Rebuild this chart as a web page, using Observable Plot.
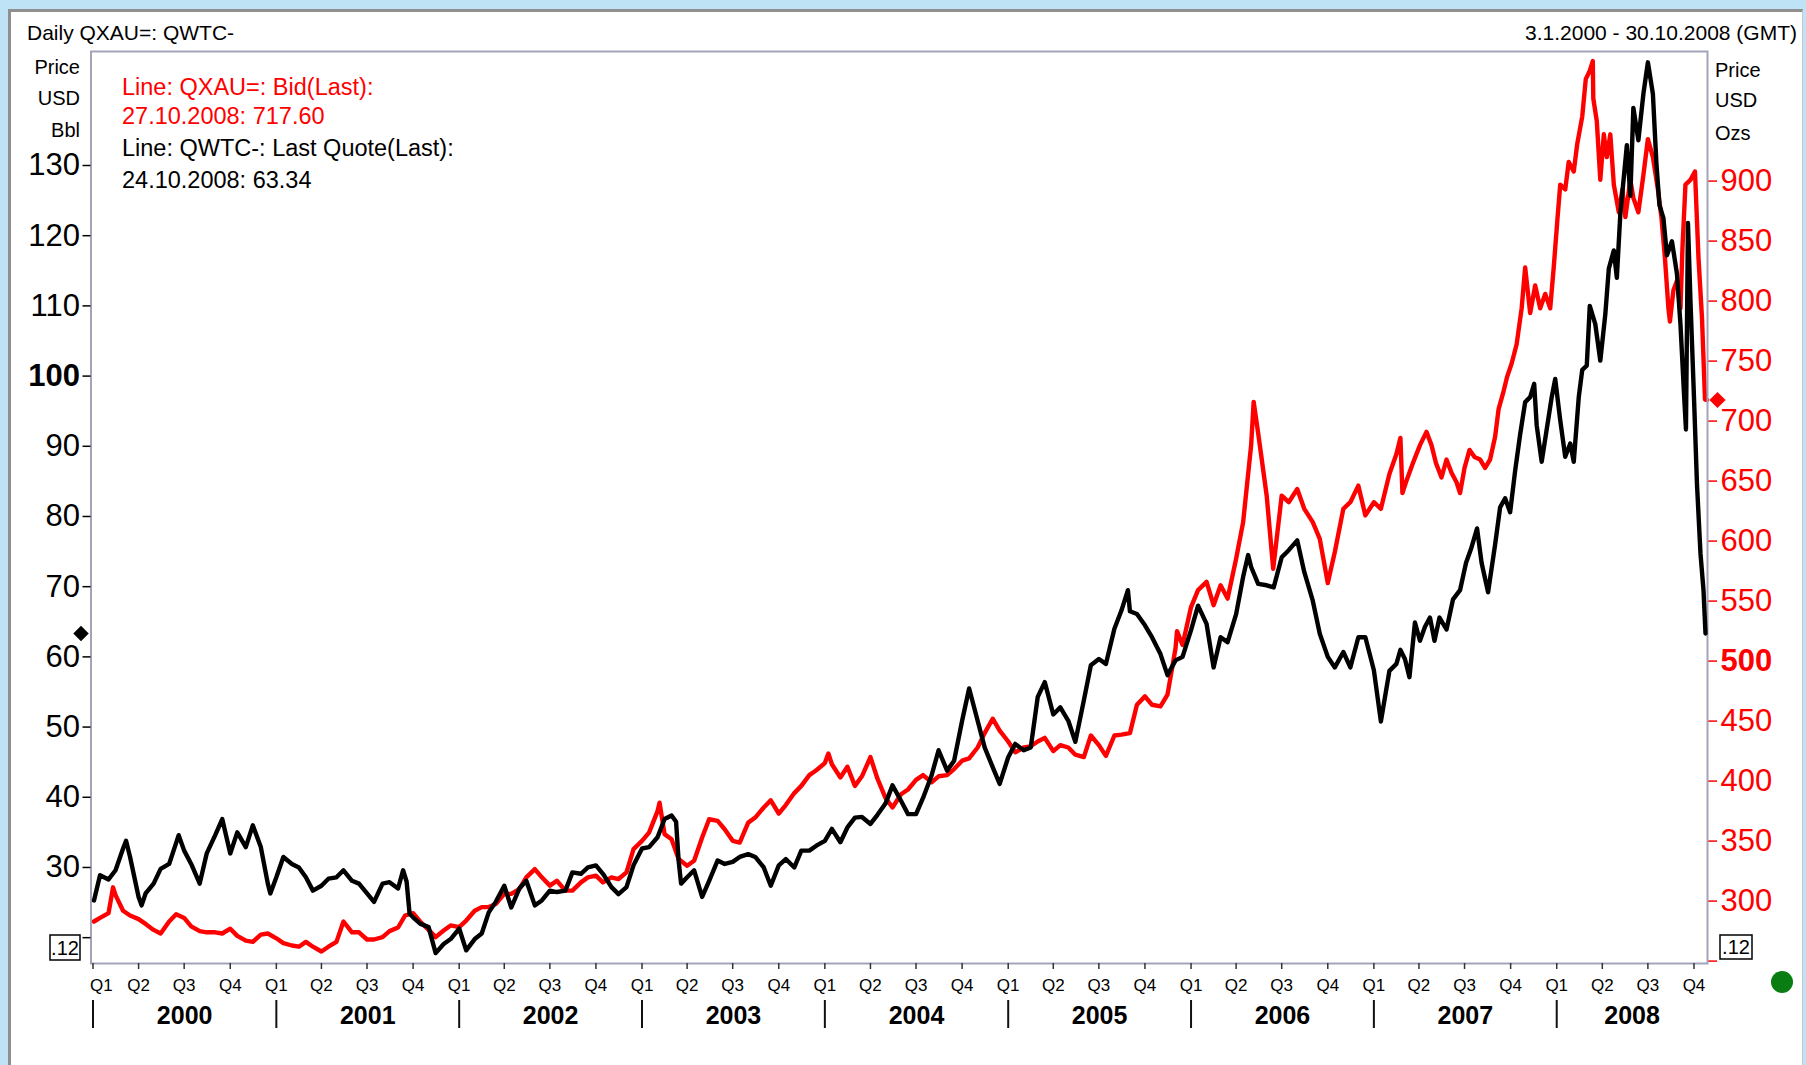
<!DOCTYPE html>
<html><head><meta charset="utf-8">
<script src="https://cdn.jsdelivr.net/npm/d3@7"></script>
<script src="https://cdn.jsdelivr.net/npm/@observablehq/plot@0.6"></script>
<style>
html,body{margin:0;padding:0;width:1806px;height:1065px;overflow:hidden;background:#bfe3f6;font-family:"Liberation Sans",Arial,sans-serif;}
#panel{position:absolute;left:8px;top:9px;width:1795px;height:1056px;background:#fff;border-left:3px solid #8f8f8f;border-top:3px solid #8f8f8f;border-right:1px solid #c8c8c8;box-sizing:border-box;}
.layer{position:absolute;left:0;top:0;}
</style></head>
<body>
<div id="panel"></div>
<div id="gold" class="layer"></div>
<div id="oil" class="layer"></div>
<div id="ann" class="layer"></div>
<script>
// ---- data ----
const oil = [
["2000-01-03",25.3],["2000-01-15",28.9],["2000-02-01",28.3],["2000-02-15",29.6],["2000-03-01",32.7],["2000-03-07",33.8],["2000-03-15",31.5],["2000-04-01",25.8],["2000-04-07",24.6],["2000-04-15",26.3],["2000-05-01",27.7],["2000-05-15",29.8],["2000-06-01",30.5],["2000-06-15",33.5],["2000-06-20",34.6],["2000-07-01",32.4],["2000-07-15",30.5],["2000-08-01",27.7],["2000-08-15",32.0],["2000-09-01",34.6],["2000-09-15",36.9],["2000-10-01",32.0],["2000-10-15",35.0],["2000-11-01",32.9],["2000-11-15",36.0],["2000-12-01",32.9],["2000-12-15",27.7],["2000-12-20",26.3],
["2001-01-01",28.6],["2001-01-15",31.5],["2001-02-01",30.5],["2001-02-15",30.0],["2001-03-01",28.6],["2001-03-15",26.7],["2001-04-01",27.4],["2001-04-15",28.4],["2001-05-01",28.6],["2001-05-15",29.6],["2001-06-01",28.1],["2001-06-15",27.7],["2001-07-01",26.3],["2001-07-15",25.1],["2001-08-01",27.7],["2001-08-15",27.9],["2001-09-01",27.0],["2001-09-11",29.6],["2001-09-18",28.0],["2001-09-24",23.4],["2001-10-01",22.9],["2001-10-15",22.0],["2001-11-01",21.5],["2001-11-15",17.8],["2001-12-01",19.1],["2001-12-15",19.8],
["2002-01-01",21.3],["2002-01-15",18.2],["2002-02-01",19.8],["2002-02-15",20.6],["2002-03-01",23.6],["2002-03-15",25.1],["2002-04-01",27.4],["2002-04-15",24.3],["2002-05-01",27.0],["2002-05-15",28.1],["2002-06-01",24.6],["2002-06-15",25.3],["2002-07-01",26.7],["2002-07-15",26.5],["2002-08-01",26.7],["2002-08-15",29.3],["2002-09-01",29.1],["2002-09-15",30.0],["2002-10-01",30.3],["2002-10-15",29.1],["2002-11-01",27.2],["2002-11-15",26.2],["2002-12-01",27.2],["2002-12-15",30.3],
["2003-01-01",32.7],["2003-01-15",32.9],["2003-02-01",34.3],["2003-02-15",36.9],["2003-03-01",37.4],["2003-03-10",36.5],["2003-03-15",31.0],["2003-03-20",27.7],["2003-04-01",28.6],["2003-04-15",29.6],["2003-05-01",25.8],["2003-05-15",28.1],["2003-06-01",31.0],["2003-06-15",30.5],["2003-07-01",30.8],["2003-07-15",31.5],["2003-08-01",31.9],["2003-08-15",31.5],["2003-09-01",30.0],["2003-09-15",27.4],["2003-10-01",30.3],["2003-10-15",31.2],["2003-11-01",30.0],["2003-11-15",32.4],["2003-12-01",32.4],["2003-12-15",33.1],
["2004-01-01",33.8],["2004-01-15",35.5],["2004-02-01",33.6],["2004-02-15",35.7],["2004-03-01",37.1],["2004-03-15",37.2],["2004-04-01",36.2],["2004-04-15",37.5],["2004-05-01",39.1],["2004-05-15",41.7],["2004-06-01",39.5],["2004-06-15",37.6],["2004-07-01",37.6],["2004-07-15",39.9],["2004-08-01",43.1],["2004-08-15",46.7],["2004-09-01",43.8],["2004-09-15",45.2],["2004-10-01",50.9],["2004-10-15",55.5],["2004-11-01",50.9],["2004-11-15",47.1],["2004-12-01",44.3],["2004-12-15",41.9],
["2005-01-01",45.7],["2005-01-15",47.6],["2005-02-01",46.7],["2005-02-15",47.1],["2005-03-01",54.3],["2005-03-15",56.4],["2005-04-01",51.8],["2005-04-15",52.8],["2005-05-01",50.9],["2005-05-15",47.9],["2005-06-01",53.8],["2005-06-15",58.8],["2005-07-01",59.7],["2005-07-15",59.0],["2005-08-01",64.0],["2005-08-15",66.6],["2005-08-28",69.5],["2005-09-01",66.5],["2005-09-15",66.1],["2005-10-01",64.5],["2005-10-15",62.8],["2005-11-01",60.4],["2005-11-15",57.4],["2005-12-01",59.5],["2005-12-15",60.0],
["2006-01-01",63.8],["2006-01-15",67.3],["2006-02-01",64.7],["2006-02-15",58.5],["2006-03-01",62.8],["2006-03-15",62.1],["2006-04-01",66.1],["2006-04-15",71.4],["2006-04-25",74.5],["2006-05-01",72.8],["2006-05-15",70.4],["2006-06-01",70.2],["2006-06-15",69.9],["2006-07-01",74.2],["2006-07-15",75.2],["2006-08-01",76.6],["2006-08-15",72.1],["2006-09-01",68.0],["2006-09-15",63.3],["2006-10-01",60.0],["2006-10-15",58.5],["2006-11-01",60.7],["2006-11-15",58.5],["2006-12-01",62.8],["2006-12-15",62.8],
["2007-01-01",58.1],["2007-01-15",50.8],["2007-02-01",58.0],["2007-02-15",59.0],["2007-02-23",61.0],["2007-03-04",59.7],["2007-03-13",57.1],["2007-03-24",64.9],["2007-04-03",62.3],["2007-04-13",64.3],["2007-04-23",65.6],["2007-05-02",62.3],["2007-05-12",65.6],["2007-05-26",63.9],["2007-06-08",68.2],["2007-06-22",69.5],["2007-07-04",73.4],["2007-07-14",75.4],["2007-07-26",78.3],["2007-08-04",73.4],["2007-08-17",69.2],["2007-08-31",76.0],["2007-09-10",81.3],["2007-09-20",82.6],["2007-09-30",80.6],["2007-10-10",86.5],["2007-10-20",91.7],["2007-10-30",96.3],["2007-11-09",97.0],["2007-11-17",98.9],["2007-11-22",93.0],["2007-12-02",87.8],["2007-12-12",92.4],["2007-12-22",97.0],["2007-12-29",99.6],
["2008-01-08",93.7],["2008-01-18",88.5],["2008-01-28",90.4],["2008-02-04",87.8],["2008-02-14",97.0],["2008-02-21",100.9],["2008-03-01",101.5],["2008-03-07",110.0],["2008-03-18",107.4],["2008-03-28",102.2],["2008-04-07",108.8],["2008-04-14",115.3],["2008-04-24",117.9],["2008-04-30",114.0],["2008-05-07",123.1],["2008-05-20",132.9],["2008-05-27",125.7],["2008-06-02",138.2],["2008-06-12",133.6],["2008-06-22",140.2],["2008-07-01",144.7],["2008-07-11",140.2],["2008-07-18",130.3],["2008-07-24",124.4],["2008-08-01",122.5],["2008-08-08",117.2],["2008-08-18",119.2],["2008-08-28",114.6],["2008-09-04",107.4],["2008-09-11",97.6],["2008-09-15",92.4],["2008-09-19",121.8],["2008-09-24",110.7],["2008-10-01",97.0],["2008-10-07",84.6],["2008-10-14",74.7],["2008-10-20",69.5],["2008-10-24",63.34]
];
const gold = [
["2000-01-03",283],["2000-01-15",286],["2000-02-01",290],["2000-02-10",311.5],["2000-02-15",305],["2000-03-01",292],["2000-03-15",288],["2000-04-01",285],["2000-04-15",281],["2000-05-01",276],["2000-05-15",273],["2000-06-01",283],["2000-06-15",289],["2000-07-01",286],["2000-07-15",279],["2000-08-01",275],["2000-08-15",274],["2000-09-01",274],["2000-09-15",273],["2000-10-01",277],["2000-10-15",271],["2000-11-01",267],["2000-11-15",266],["2000-12-01",272],["2000-12-15",273],
["2001-01-01",269],["2001-01-15",265],["2001-02-01",263],["2001-02-15",262],["2001-03-01",266],["2001-03-15",262],["2001-04-01",258],["2001-04-15",262],["2001-05-01",266],["2001-05-15",283],["2001-06-01",274],["2001-06-15",274],["2001-07-01",268],["2001-07-15",268],["2001-08-01",270],["2001-08-15",275],["2001-09-01",278],["2001-09-15",288],["2001-10-01",290],["2001-10-15",283],["2001-11-01",276],["2001-11-15",270],["2001-12-01",275.5],["2001-12-15",279.7],
["2002-01-01",278.3],["2002-01-15",283.8],["2002-02-01",292],["2002-02-15",295],["2002-03-01",295],["2002-03-15",297.6],["2002-04-01",306],["2002-04-15",306],["2002-05-01",310],["2002-05-15",319.8],["2002-06-01",326.7],["2002-06-15",319.8],["2002-07-01",312.9],["2002-07-15",317],["2002-08-01",308.7],["2002-08-15",308.7],["2002-09-01",315.6],["2002-09-15",319.8],["2002-10-01",321.2],["2002-10-15",315.6],["2002-11-01",319.8],["2002-11-15",318.4],["2002-12-01",323.9],["2002-12-15",343.3],
["2003-01-01",350.2],["2003-01-15",357.1],["2003-02-01",375],["2003-02-05",382],["2003-02-15",355.8],["2003-03-01",351.6],["2003-03-15",335],["2003-04-01",329.5],["2003-04-15",333.6],["2003-05-01",353],["2003-05-15",368.2],["2003-06-01",366.8],["2003-06-15",359.9],["2003-07-01",350.2],["2003-07-15",348.8],["2003-08-01",365.4],["2003-08-15",369.6],["2003-09-01",378],["2003-09-15",384],["2003-10-01",373],["2003-10-15",380],["2003-11-01",390],["2003-11-15",396],["2003-12-01",405],["2003-12-15",409],
["2004-01-01",415],["2004-01-08",423],["2004-01-15",414],["2004-02-01",403],["2004-02-15",412],["2004-03-01",396],["2004-03-15",404],["2004-04-01",420],["2004-04-15",402],["2004-05-01",386],["2004-05-15",378],["2004-06-01",389],["2004-06-15",393],["2004-07-01",401],["2004-07-15",405],["2004-08-01",399],["2004-08-15",404],["2004-09-01",405],["2004-09-15",410],["2004-10-01",417],["2004-10-15",419],["2004-11-01",428],["2004-11-15",440],["2004-12-01",452],["2004-12-15",442],
["2005-01-01",433],["2005-01-15",424],["2005-02-01",428],["2005-02-15",429],["2005-03-01",433],["2005-03-15",436],["2005-04-01",425],["2005-04-15",430],["2005-05-01",428],["2005-05-15",422],["2005-06-01",420],["2005-06-15",438],["2005-07-01",430],["2005-07-15",421],["2005-08-01",438],["2005-08-15",438.7],["2005-09-01",440],["2005-09-15",463.6],["2005-10-01",470.6],["2005-10-15",463.6],["2005-11-01",462.2],["2005-11-15",472],["2005-12-01",510.6],["2005-12-04",525],["2005-12-15",513.4],
["2006-01-01",545],["2006-01-15",559.1],["2006-02-01",566],["2006-02-15",546.6],["2006-03-01",563.2],["2006-03-15",552.1],["2006-04-01",585.3],["2006-04-15",615.8],["2006-05-01",680],["2006-05-06",716],["2006-05-15",690],["2006-06-01",637.9],["2006-06-14",577],["2006-07-01",637.9],["2006-07-15",632.4],["2006-08-01",643.4],["2006-08-15",626.9],["2006-09-01",615.8],["2006-09-15",601.9],["2006-10-01",565],["2006-10-15",590.9],["2006-11-01",626.9],["2006-11-15",632.4],["2006-12-01",646.2],["2006-12-15",621.4],
["2007-01-01",632.4],["2007-01-15",626.9],["2007-02-01",655.9],["2007-02-15",672.5],["2007-02-23",686],["2007-02-27",640],["2007-03-06",649],["2007-03-20",665],["2007-04-03",680],["2007-04-16",691],["2007-04-26",680],["2007-05-05",665],["2007-05-16",653],["2007-05-26",668],["2007-06-05",657],["2007-06-15",649],["2007-06-22",640],["2007-07-01",661],["2007-07-11",676],["2007-07-21",670],["2007-08-01",668],["2007-08-11",661],["2007-08-21",668],["2007-08-31",687],["2007-09-07",710],["2007-09-17",725],["2007-09-24",737],["2007-10-03",748],["2007-10-13",764],["2007-10-23",794],["2007-10-30",828],["2007-11-09",790],["2007-11-19",813],["2007-11-29",794],["2007-12-09",806],["2007-12-19",794],["2007-12-26",828],
["2008-01-02",866],["2008-01-08",897],["2008-01-18",893],["2008-01-25",916],["2008-02-04",908],["2008-02-11",931],["2008-02-21",954],["2008-02-28",985],["2008-03-07",992],["2008-03-13",1000],["2008-03-14",969],["2008-03-21",950],["2008-03-28",901],["2008-04-04",939],["2008-04-10",920],["2008-04-17",939],["2008-04-24",897],["2008-05-04",874],["2008-05-11",893],["2008-05-17",870],["2008-05-27",901],["2008-06-02",886],["2008-06-12",874],["2008-06-22",905],["2008-07-01",935],["2008-07-11",920],["2008-07-21",893],["2008-07-28",870],["2008-08-04",836],["2008-08-11",794],["2008-08-14",783],["2008-08-21",809],["2008-08-28",817],["2008-09-04",794],["2008-09-08",844],["2008-09-14",897],["2008-09-24",901],["2008-10-03",908],["2008-10-10",836],["2008-10-17",786],["2008-10-23",718],["2008-10-27",717.6]
];
const oilTicks = [20,30,40,50,60,70,80,90,100,110,120,130];
const goldTicks = [250,300,350,400,450,500,550,600,650,700,750,800,850,900];
const years = [2000,2001,2002,2003,2004,2005,2006,2007,2008];
const quarterNames = ["Q1","Q2","Q3","Q4"];
const lastOil = {date:"2008-10-24", value:63.34};
const lastGold = {date:"2008-10-27", value:717.60};
const titleLeft = "Daily QXAU=: QWTC-";
const titleRight = "3.1.2000 - 30.10.2008 (GMT)";
const legendLines = [
  {text:"Line: QXAU=: Bid(Last):", color:"#ff0000"},
  {text:"27.10.2008: 717.60", color:"#ff0000"},
  {text:"Line: QWTC-: Last Quote(Last):", color:"#000"},
  {text:"24.10.2008: 63.34", color:"#000"}
];
const leftUnits = ["Price","USD","Bbl"];
const rightUnits = ["Price","USD","Ozs"];

// ---- layout ----
const W = 1806, H = 1065;
const M = {marginLeft: 90.5, marginRight: 99, marginTop: 51, marginBottom: 102};
const xDomain = [new Date("1999-12-28"), new Date("2008-10-28")];
const RED = "#ff0000";
const FONT = "'Liberation Sans', Arial, sans-serif";
const parse = d => new Date(d[0]);
const LW = 4.4;

const quarters = [];
years.forEach(y => [0,3,6,9].forEach(m => { const d = new Date(Date.UTC(y,m,1)); if (d <= xDomain[1]) quarters.push(d); }));
const yearStarts = years.map(y => new Date(Date.UTC(y,0,1)));
const yearMids = years.map(y => {
  const a = +new Date(Date.UTC(y,0,1)), b = Math.min(+new Date(Date.UTC(y+1,0,1)), +xDomain[1]);
  return {x: new Date((a+b)/2), label: String(y)};
});
const qLabel = d => quarterNames[Math.floor(d.getUTCMonth()/3)];

const common = {width: W, height: H, ...M,
  style: {background: "transparent", fontFamily: FONT, overflow: "visible"}};

// Gold (right axis) layer, drawn below
const goldPlot = Plot.plot({
  ...common,
  x: {type: "utc", domain: xDomain, axis: null},
  y: {domain: [248, 1008], label: null},
  marks: [
    Plot.line(gold, {x: parse, y: d => d[1], stroke: RED, strokeWidth: LW, strokeLinejoin: "round"}),
    Plot.axisY(goldTicks, {anchor: "right", tickSize: 9, tickPadding: 4, fontSize: 31, color: RED, strokeWidth: 1.5,
      tickFormat: d => (d === 250 || d === 500) ? "" : d}),
    Plot.text([500], {y: d => d, frameAnchor: "right", dx: 13, textAnchor: "start", fontSize: 31, fontWeight: "bold", fill: RED}),
    Plot.dot([lastGold], {y: "value", frameAnchor: "right", dx: 10, symbol: "diamond2", r: 7.3, fill: RED, stroke: "none"})
  ]
});
document.getElementById("gold").append(goldPlot);

// Oil (left axis) layer, drawn on top
const oilPlot = Plot.plot({
  ...common,
  x: {type: "utc", domain: xDomain, label: null},
  y: {domain: [16.32, 146.24], label: null},
  marks: [
    Plot.frame({stroke: "#a4a4b8", strokeWidth: 2}),
    Plot.line(oil, {x: parse, y: d => d[1], stroke: "#000", strokeWidth: LW, strokeLinejoin: "round"}),
    Plot.axisY(oilTicks, {anchor: "left", tickSize: 8, tickPadding: 3, fontSize: 31, strokeWidth: 1.5,
      tickFormat: d => (d === 20 || d === 100) ? "" : d}),
    Plot.text([100], {y: d => d, frameAnchor: "left", dx: -11, textAnchor: "end", fontSize: 31, fontWeight: "bold"}),
    Plot.axisX(quarters, {anchor: "bottom", tickSize: 6, tickPadding: 9, fontSize: 17, stroke: "#333", strokeWidth: 1.5,
      tickFormat: (d, i) => i === 0 ? "" : qLabel(d)}),
    Plot.text(quarters.slice(0, 1), {x: d => d, text: qLabel, frameAnchor: "bottom", dy: 15, dx: -3, lineAnchor: "top", textAnchor: "start", fontSize: 17}),
    Plot.ruleX(yearStarts, {stroke: "#111", strokeWidth: 2, insetTop: 949, insetBottom: -65}),
    Plot.text(yearMids, {x: "x", text: "label", frameAnchor: "bottom", dy: 52, lineAnchor: "middle", fontSize: 25, fontWeight: "bold"}),
    Plot.dot([lastOil], {y: "value", frameAnchor: "left", dx: -10, symbol: "diamond2", r: 7, fill: "#000", stroke: "none"})
  ]
});
document.getElementById("oil").append(oilPlot);

// Annotation layer (titles, units, legend, markers)
const svg = d3.select("#ann").append("svg").attr("width", W).attr("height", H)
  .style("font-family", FONT).style("overflow", "visible");
svg.append("text").attr("x", 27).attr("y", 40).attr("font-size", 21).text(titleLeft);
svg.append("text").attr("x", 1797).attr("y", 40).attr("font-size", 21).attr("text-anchor", "end").text(titleRight);
leftUnits.forEach((t,i) => svg.append("text").attr("x", 80).attr("y", [74,105,137][i]).attr("font-size", 20).attr("text-anchor", "end").text(t));
rightUnits.forEach((t,i) => svg.append("text").attr("x", 1715).attr("y", [77,107,140][i]).attr("font-size", 20).text(t));
legendLines.forEach((l,i) => svg.append("text").attr("x", 122).attr("y", [95,124,156,188][i]).attr("font-size", 23.5).attr("fill", l.color).text(l.text));
[[50,935,30,25],[1720,935,32,24]].forEach(([x,y,w,h]) => {
  svg.append("rect").attr("x", x).attr("y", y).attr("width", w).attr("height", h).attr("fill", "#fff").attr("stroke", "#000").attr("stroke-width", 1.5);
  svg.append("text").attr("x", x + w/2).attr("y", y + h/2 + 7).attr("font-size", 20).attr("text-anchor", "middle").text(".12");
});
svg.append("circle").attr("cx", 1782).attr("cy", 982).attr("r", 11).attr("fill", "#0a7d12");
</script>
</body></html>
